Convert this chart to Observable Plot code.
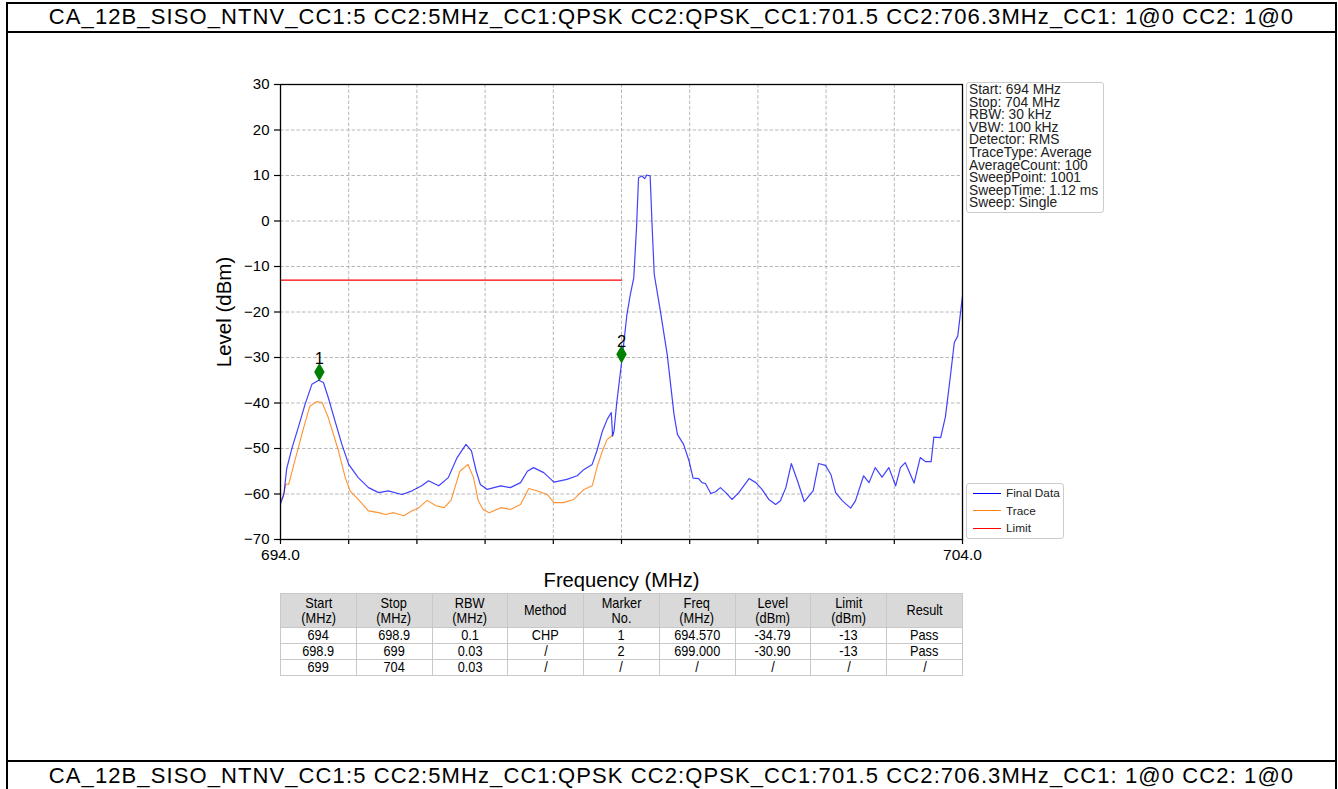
<!DOCTYPE html>
<html>
<head>
<meta charset="utf-8">
<script src="https://cdn.jsdelivr.net/npm/d3@7"></script>
<script src="https://cdn.jsdelivr.net/npm/@observablehq/plot@0.6"></script>
<style>
  html, body { margin: 0; padding: 0; width: 1338px; height: 789px; overflow: hidden; background: white; }
  body { position: relative; font-family: "Liberation Sans", Arial, sans-serif; }
  .hline, .vline { position: absolute; background: #000; z-index: 5; }
  .title { position: absolute; left: 7px; width: 1329px; text-align: center; font-size: 22px; letter-spacing: 1.1px; z-index: 5; white-space: nowrap; }
  #chart { position: absolute; left: 0; top: 0; z-index: 1; }
  .info { position: absolute; left: 966px; top: 82px; width: 132px; height: 126px; border: 1px solid #cccccc; border-radius: 3px; padding: 1px 2px 2px 2px; font-size: 13.8px; line-height: 12.6px; color: #222; z-index: 3; background: rgba(255,255,255,0.8); white-space: nowrap; overflow: visible; }
  .legend { position: absolute; left: 966px; top: 483px; width: 96px; height: 54px; border: 1px solid #cccccc; border-radius: 3px; font-size: 11.8px; color: #222; z-index: 3; background: rgba(255,255,255,0.8); }
  .legend .item { position: absolute; left: 6px; height: 12px; display: flex; align-items: center; white-space: nowrap; }
  .legend .sw { width: 28px; height: 0; border-top: 1.5px solid; margin-right: 5px; }
  table.res { position: absolute; left: 280px; top: 593px; width: 683px; border-collapse: collapse; z-index: 3; font-family: "Liberation Sans", Arial, sans-serif; font-size: 14.5px; table-layout: fixed; }
  table.res td, table.res th { border: 1px solid #c8c8c8; text-align: center; padding: 0; font-weight: normal; overflow: visible; }
  table.res th { background: #d9d9d9; height: 33px; line-height: 15px; }
  table.res td { height: 15px; line-height: 15px; }
  table.res span { display: inline-block; transform: scaleX(0.88); white-space: nowrap; }
</style>
</head>
<body>
<div id="chart"></div>
<script>
// ---- Data ----
const finalFreq = [694.00,694.05,694.09,694.17,694.26,694.36,694.46,694.56,694.63,694.70,694.80,694.90,695.00,695.14,695.29,695.44,695.58,695.78,695.93,696.07,696.17,696.32,696.46,696.59,696.72,696.80,696.87,696.93,697.03,697.23,697.37,697.52,697.62,697.71,697.86,698.01,698.20,698.35,698.45,698.57,698.64,698.72,698.79,698.85,698.87,698.89,698.93,699.01,699.08,699.13,699.18,699.22,699.25,699.30,699.34,699.37,699.42,699.45,699.48,699.57,699.67,699.77,699.82,699.91,699.99,700.05,700.13,700.18,700.23,700.31,700.38,700.45,700.53,700.62,700.72,700.87,700.97,701.06,701.16,701.26,701.33,701.41,701.49,701.58,701.68,701.81,701.89,701.99,702.07,702.14,702.24,702.36,702.43,702.55,702.63,702.72,702.82,702.92,703.02,703.09,703.16,703.29,703.38,703.46,703.54,703.58,703.68,703.75,703.82,703.88,703.93,704.00];
const finalLevel = [-62.2,-60.0,-54.5,-49.8,-45.4,-40.3,-35.9,-35.0,-35.5,-38.8,-44.0,-49.1,-53.5,-56.4,-58.6,-59.7,-59.3,-60.1,-59.3,-58.2,-57.1,-58.2,-56.4,-52.0,-49.1,-50.5,-55.0,-57.9,-59.0,-58.2,-58.6,-57.5,-55.0,-54.2,-55.3,-57.4,-56.8,-56.0,-54.6,-53.5,-50.5,-46.2,-43.6,-42.1,-47.3,-46.2,-40.0,-30.0,-20.5,-16.1,-12.5,-1.5,9.5,9.9,9.3,10.1,9.9,-1.5,-11.7,-19.8,-29.3,-42.5,-46.9,-49.1,-52.7,-56.5,-56.6,-57.5,-57.7,-59.9,-59.5,-58.6,-59.7,-61.2,-59.7,-56.6,-57.5,-59.0,-61.2,-62.3,-61.5,-58.6,-53.3,-57.1,-61.7,-59.3,-53.3,-53.7,-55.7,-59.7,-61.5,-63.1,-61.5,-56.0,-57.5,-54.2,-56.3,-54.2,-58.2,-54.2,-53.1,-57.6,-52.0,-52.9,-52.9,-47.5,-47.6,-43.0,-34.4,-26.7,-25.3,-16.5];

const traceFreq = [694.00,694.04,694.08,694.12,694.21,694.34,694.43,694.53,694.61,694.70,694.85,694.95,695.02,695.14,695.29,695.44,695.54,695.66,695.81,695.93,696.03,696.15,696.28,696.40,696.50,696.63,696.75,696.83,696.90,696.97,697.06,697.23,697.37,697.52,697.64,697.76,697.91,698.01,698.15,698.30,698.45,698.57,698.64,698.72,698.79,698.85,698.88];
const traceLevel = [-61.5,-60.5,-57.8,-57.9,-52.7,-45.4,-40.7,-39.7,-39.9,-43.2,-50.5,-56.4,-59.3,-61.2,-63.7,-64.1,-64.5,-64.1,-64.8,-63.7,-63.0,-61.4,-62.6,-63.0,-61.4,-55.0,-53.5,-56.4,-61.5,-63.4,-64.1,-63.0,-63.4,-62.3,-58.8,-59.3,-60.1,-61.9,-61.9,-61.2,-59.0,-58.2,-54.2,-50.5,-48.0,-47.3,-46.5];

const limitFreq = [694, 699];
const limitLevel = [-13, -13];

const markerFreq = [694.57, 699.0];
const markerLevel = [-33.2, -29.3];
const markerLabel = ["1", "2"];

const yTicks = [-70, -60, -50, -40, -30, -20, -10, 0, 10, 20, 30];
const xTicks = [694, 695, 696, 697, 698, 699, 700, 701, 702, 703, 704];
const xTickLabeled = [694, 704];

const titleText = "CA_12B_SISO_NTNV_CC1:5 CC2:5MHz_CC1:QPSK CC2:QPSK_CC1:701.5 CC2:706.3MHz_CC1: 1@0 CC2: 1@0";
const infoLines = ["Start: 694 MHz", "Stop: 704 MHz", "RBW: 30 kHz", "VBW: 100 kHz", "Detector: RMS", "TraceType: Average", "AverageCount: 100", "SweepPoint: 1001", "SweepTime: 1.12 ms", "Sweep: Single"];
const legendNames = ["Final Data", "Trace", "Limit"];
const legendColors = ["#0000ff", "#ff7f0e", "#ff0000"];

const tableHeader = [["Start","(MHz)"],["Stop","(MHz)"],["RBW","(MHz)"],["Method"],["Marker","No."],["Freq","(MHz)"],["Level","(dBm)"],["Limit","(dBm)"],["Result"]];
const tableRows = [
  ["694","698.9","0.1","CHP","1","694.570","-34.79","-13","Pass"],
  ["698.9","699","0.03","/","2","699.000","-30.90","-13","Pass"],
  ["699","704","0.03","/","/","/","/","/","/"]
];

// ---- Build tables ----
const finalData = finalFreq.map((f, i) => ({f, v: finalLevel[i]}));
const traceData = traceFreq.map((f, i) => ({f, v: traceLevel[i]}));
const limitData = limitFreq.map((f, i) => ({f, v: limitLevel[i]}));
const markers = markerFreq.map((f, i) => ({f, v: markerLevel[i], label: markerLabel[i]}));

const W = 1338, H = 592;
const chart = Plot.plot({
  width: W, height: H,
  marginLeft: 280, marginRight: W - 962, marginTop: 84, marginBottom: H - 539,
  style: {fontFamily: "'Liberation Sans', Arial, sans-serif", background: "white"},
  x: {domain: [694, 704]},
  y: {domain: [-70, 30]},
  marks: [
    Plot.gridX(xTicks, {stroke: "#b0b0b0", strokeOpacity: 1, strokeDasharray: "3.5,2", strokeWidth: 0.9}),
    Plot.gridY(yTicks, {stroke: "#b0b0b0", strokeOpacity: 1, strokeDasharray: "3.5,2", strokeWidth: 0.9}),
    Plot.line(limitData, {x: "f", y: "v", stroke: legendColors[2], strokeWidth: 1.3}),
    Plot.line(traceData, {x: "f", y: "v", stroke: legendColors[1], strokeWidth: 1.1, strokeOpacity: 0.85}),
    Plot.line(finalData, {x: "f", y: "v", stroke: legendColors[0], strokeWidth: 1.2, strokeOpacity: 0.75}),
    Plot.dot(markers, {x: "f", y: "v", symbol: "diamond", r: 4.6, fill: "#008000", stroke: "#008000"}),
    Plot.text(markers, {x: "f", y: "v", text: "label", dy: -13, fontSize: 16.5, fill: "#000"}),
    Plot.frame({stroke: "#000", strokeWidth: 1.3}),
    Plot.axisY(yTicks, {anchor: "left", tickSize: 6, tickPadding: 5, fontSize: 15, label: null, tickFormat: d => d3.format("d")(d).replace("-", "\u2212"), stroke: "#000", strokeWidth: 1.2, fill: "#000"}),
    Plot.axisX(xTicks, {anchor: "bottom", tickSize: 5, tickPadding: 4, fontSize: 15.5, label: null, tickFormat: d => xTickLabeled.includes(d) ? d.toFixed(1) : "", stroke: "#000", strokeWidth: 1.2, fill: "#000"}),
    Plot.text(["Level (dBm)"], {frameAnchor: "left", dx: -56, rotate: -90, fontSize: 20.5, textAnchor: "middle", lineAnchor: "middle", fill: "#000"}),
    Plot.text(["Frequency (MHz)"], {frameAnchor: "bottom", dy: 41, fontSize: 20.2, textAnchor: "middle", lineAnchor: "middle", fill: "#000"})
  ]
});
document.getElementById("chart").appendChild(chart);

// ---- Page frame & titles ----
function el(cls, style, html) {
  const d = document.createElement("div");
  d.className = cls; Object.assign(d.style, style);
  if (html != null) d.innerHTML = html;
  document.body.appendChild(d);
  return d;
}
el("hline", {left: "6px", top: "2px", width: "1331px", height: "2px"});
el("hline", {left: "6px", top: "31px", width: "1331px", height: "2px"});
el("hline", {left: "6px", top: "760px", width: "1331px", height: "2px"});
el("vline", {left: "6px", top: "2px", width: "2px", height: "787px"});
el("vline", {left: "1335px", top: "2px", width: "2px", height: "787px"});
el("title", {top: "4px"}).textContent = titleText;
el("title", {top: "763px"}).textContent = titleText;

// ---- Info box ----
const info = el("info", {});
info.innerHTML = infoLines.map(s => `<div>${s}</div>`).join("");

// ---- Legend ----
const leg = el("legend", {});
legendNames.forEach((n, i) => {
  const it = document.createElement("div");
  it.className = "item";
  it.style.top = (3 + i * 17.5) + "px";
  it.innerHTML = `<span class="sw" style="border-color:${legendColors[i]}"></span><span>${n}</span>`;
  leg.appendChild(it);
});

// ---- Results table ----
const tbl = document.createElement("table");
tbl.className = "res";
tbl.innerHTML = "<tr>" + tableHeader.map(h => `<th><span>${h.join("<br>")}</span></th>`).join("") + "</tr>" +
  tableRows.map(r => "<tr>" + r.map(c => `<td><span>${c}</span></td>`).join("") + "</tr>").join("");
document.body.appendChild(tbl);
</script>
</body>
</html>
